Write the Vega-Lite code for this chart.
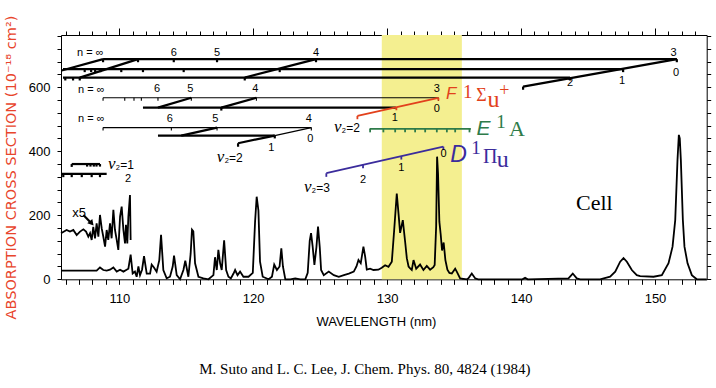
{
"$schema": "https://vega.github.io/schema/vega-lite/v6.json",
"width": 645.7,
"height": 244.3,
"autosize": {"type": "none"},
"padding": {"left": 61, "top": 35, "right": 9.3, "bottom": 108.7},
"background": "white",
"config": {"view": {"stroke": null}, "axis": {"grid": false, "domainColor": "black", "tickColor": "black", "labelColor": "black", "titleColor": "black", "labelOverlap": false, "labelFlush": false, "labelFont": "Liberation Sans", "labelFontSize": 13}},
"title": {"text": "M. Suto and L. C. Lee, J. Chem. Phys. 80, 4824 (1984)", "orient": "bottom", "anchor": "middle", "font": "Liberation Serif", "fontSize": 15, "fontWeight": "normal", "color": "black", "offset": 34, "dx": -19},
"datasets": {
"band": [{"x": 129.6, "x2": 135.58}],
"main": [
{"x":105.65,"y":27},{"x":106.57,"y":27},{"x":107.57,"y":27},{"x":108.31,"y":27},{"x":108.56,"y":37},{"x":108.81,"y":29},{"x":109.06,"y":27},{"x":109.31,"y":30},{"x":109.56,"y":37},{"x":109.81,"y":24},{"x":110.06,"y":30},{"x":110.31,"y":24},{"x":110.55,"y":30},{"x":110.68,"y":33},{"x":110.85,"y":77},{"x":111.0,"y":18},{"x":111.17,"y":24},{"x":111.3,"y":8},{"x":111.43,"y":40},{"x":111.55,"y":13},{"x":111.7,"y":30},{"x":111.85,"y":72},{"x":112.05,"y":18},{"x":112.3,"y":18},{"x":112.42,"y":46},{"x":112.59,"y":37},{"x":112.79,"y":24},{"x":112.99,"y":60},{"x":113.12,"y":139},{"x":113.29,"y":29},{"x":113.54,"y":3},{"x":113.79,"y":8},{"x":113.99,"y":40},{"x":114.09,"y":74},{"x":114.29,"y":13},{"x":114.54,"y":0},{"x":114.79,"y":29},{"x":114.93,"y":58},{"x":115.16,"y":8},{"x":115.33,"y":80},{"x":115.43,"y":155},{"x":115.53,"y":150},{"x":115.66,"y":50},{"x":115.91,"y":8},{"x":116.28,"y":3},{"x":116.66,"y":0},{"x":117.03,"y":13},{"x":117.15,"y":69},{"x":117.28,"y":29},{"x":117.4,"y":92},{"x":117.53,"y":50},{"x":117.65,"y":29},{"x":117.83,"y":122},{"x":117.98,"y":29},{"x":118.15,"y":8},{"x":118.33,"y":3},{"x":118.53,"y":18},{"x":118.65,"y":29},{"x":118.83,"y":13},{"x":119.02,"y":24},{"x":119.27,"y":8},{"x":119.65,"y":8},{"x":119.97,"y":20},{"x":120.14,"y":180},{"x":120.26,"y":258},{"x":120.39,"y":215},{"x":120.51,"y":55},{"x":120.71,"y":8},{"x":121.15,"y":0},{"x":121.4,"y":8},{"x":121.57,"y":46},{"x":121.77,"y":29},{"x":121.97,"y":40},{"x":122.1,"y":97},{"x":122.22,"y":40},{"x":122.4,"y":0},{"x":122.77,"y":0},{"x":123.14,"y":3},{"x":123.52,"y":0},{"x":123.89,"y":0},{"x":124.07,"y":20},{"x":124.22,"y":120},{"x":124.32,"y":144},{"x":124.44,"y":102},{"x":124.57,"y":45},{"x":124.72,"y":100},{"x":124.84,"y":165},{"x":124.97,"y":100},{"x":125.07,"y":29},{"x":125.27,"y":13},{"x":125.64,"y":24},{"x":126.02,"y":13},{"x":126.39,"y":8},{"x":126.77,"y":13},{"x":127.14,"y":18},{"x":127.51,"y":24},{"x":127.71,"y":40},{"x":127.86,"y":60},{"x":128.03,"y":50},{"x":128.23,"y":102},{"x":128.36,"y":71},{"x":128.48,"y":30},{"x":128.73,"y":33},{"x":128.98,"y":29},{"x":129.35,"y":30},{"x":129.6,"y":36},{"x":129.85,"y":44},{"x":130.1,"y":39},{"x":130.35,"y":55},{"x":130.52,"y":150},{"x":130.72,"y":268},{"x":130.85,"y":205},{"x":130.97,"y":145},{"x":131.17,"y":185},{"x":131.35,"y":115},{"x":131.47,"y":66},{"x":131.6,"y":40},{"x":131.72,"y":34},{"x":131.84,"y":29},{"x":131.97,"y":60},{"x":132.17,"y":33},{"x":132.46,"y":46},{"x":132.71,"y":29},{"x":132.96,"y":42},{"x":133.21,"y":30},{"x":133.45,"y":38},{"x":133.55,"y":45},{"x":133.66,"y":165},{"x":133.73,"y":383},{"x":133.8,"y":330},{"x":133.9,"y":180},{"x":134.0,"y":140},{"x":134.1,"y":90},{"x":134.22,"y":115},{"x":134.35,"y":60},{"x":134.5,"y":30},{"x":134.65,"y":20},{"x":134.83,"y":18},{"x":135.08,"y":33},{"x":135.2,"y":24},{"x":135.45,"y":3},{"x":135.95,"y":0},{"x":136.07,"y":3},{"x":136.32,"y":18},{"x":136.57,"y":3},{"x":136.8,"y":0},{"x":140.1,"y":0},{"x":140.3,"y":5},{"x":140.5,"y":0},{"x":143.54,"y":3},{"x":143.86,"y":18},{"x":144.16,"y":3},{"x":144.41,"y":0},{"x":145.9,"y":0},{"x":146.65,"y":8},{"x":147.03,"y":24},{"x":147.4,"y":55},{"x":147.65,"y":66},{"x":147.9,"y":55},{"x":148.27,"y":29},{"x":148.64,"y":13},{"x":148.89,"y":10},{"x":149.89,"y":8},{"x":150.51,"y":13},{"x":151.01,"y":50},{"x":151.31,"y":102},{"x":151.51,"y":185},{"x":151.68,"y":373},{"x":151.78,"y":451},{"x":151.85,"y":440},{"x":151.93,"y":373},{"x":152.08,"y":185},{"x":152.2,"y":102},{"x":152.43,"y":50},{"x":152.75,"y":13},{"x":153.12,"y":0},{"x":153.86,"y":0}
],
"x5": [
{"x":105.65,"y":144},{"x":106.07,"y":154},{"x":106.32,"y":149},{"x":106.57,"y":154},{"x":106.82,"y":138},{"x":107.07,"y":149},{"x":107.32,"y":156},{"x":107.52,"y":149},{"x":107.69,"y":133},{"x":107.82,"y":144},{"x":107.94,"y":123},{"x":108.06,"y":164},{"x":108.19,"y":128},{"x":108.31,"y":175},{"x":108.44,"y":133},{"x":108.56,"y":201},{"x":108.69,"y":159},{"x":108.81,"y":133},{"x":108.94,"y":102},{"x":109.06,"y":154},{"x":109.18,"y":123},{"x":109.31,"y":175},{"x":109.43,"y":128},{"x":109.56,"y":217},{"x":109.68,"y":154},{"x":109.81,"y":123},{"x":109.93,"y":92},{"x":110.06,"y":196},{"x":110.18,"y":227},{"x":110.31,"y":154},{"x":110.43,"y":112},{"x":110.5,"y":170},{"x":110.6,"y":112},{"x":110.68,"y":196},{"x":110.8,"y":263},{"x":110.85,"y":123}
],
"thick": [
{"x":108.79,"y":687.5,"x2":151.63,"y2":687.5},{"x":105.8,"y":656.3,"x2":147.62,"y2":656.3},{"x":105.8,"y":630,"x2":143.66,"y2":630},
{"x":105.7,"y":652,"x2":108.79,"y2":687.5},{"x":107.05,"y":630,"x2":111.4,"y2":687.5},{"x":119.37,"y":630,"x2":124.69,"y2":687.5},{"x":140.15,"y":602,"x2":151.63,"y2":687.5},{"x":140.15,"y":602,"x2":140.15,"y2":592},
{"x":108.79,"y":687.5,"x2":108.79,"y2":678},{"x":111.4,"y":687.5,"x2":111.4,"y2":678},{"x":114.07,"y":687.5,"x2":114.07,"y2":678},{"x":117.3,"y":687.5,"x2":117.3,"y2":678},{"x":124.69,"y":687.5,"x2":124.69,"y2":678},{"x":151.63,"y":687.5,"x2":151.63,"y2":678},
{"x":107.42,"y":656.3,"x2":107.42,"y2":647},{"x":107.9,"y":656.3,"x2":107.9,"y2":647},{"x":108.2,"y":656.3,"x2":108.2,"y2":647},{"x":108.6,"y":656.3,"x2":108.6,"y2":647},{"x":110.15,"y":656.3,"x2":110.15,"y2":647},{"x":111.77,"y":656.3,"x2":111.77,"y2":647},{"x":114.81,"y":656.3,"x2":114.81,"y2":647},{"x":121.98,"y":656.3,"x2":121.98,"y2":647},{"x":147.62,"y":656.3,"x2":147.62,"y2":647},
{"x":105.97,"y":630,"x2":105.97,"y2":621},{"x":106.55,"y":630,"x2":106.55,"y2":621},{"x":107.05,"y":630,"x2":107.05,"y2":621},{"x":119.37,"y":630,"x2":119.37,"y2":621},{"x":143.66,"y":630,"x2":143.66,"y2":621},
{"x":111.77,"y":536.3,"x2":130.65,"y2":536.3},{"x":112.89,"y":536.3,"x2":115.38,"y2":567},{"x":117.62,"y":536.3,"x2":120.24,"y2":567},{"x":117.62,"y":536.3,"x2":117.62,"y2":527},
{"x":112.89,"y":448.8,"x2":121.61,"y2":448.8},{"x":114.63,"y":448.8,"x2":117.3,"y2":473.8},{"x":118.87,"y":425,"x2":121.61,"y2":448.8},{"x":118.87,"y":425,"x2":118.87,"y2":414},{"x":121.61,"y":448.8,"x2":121.61,"y2":440},
{"x":106.45,"y":360,"x2":108.56,"y2":360},{"x":106.45,"y":360,"x2":106.45,"y2":351},{"x":107.6,"y":360,"x2":107.6,"y2":352},{"x":107.85,"y":360,"x2":107.85,"y2":352},{"x":108.1,"y":360,"x2":108.1,"y2":352},{"x":108.3,"y":360,"x2":108.3,"y2":352},{"x":108.56,"y":360,"x2":108.56,"y2":352},
{"x":105.65,"y":329,"x2":109.06,"y2":329},{"x":105.82,"y":329,"x2":105.82,"y2":319},{"x":106.45,"y":329,"x2":106.45,"y2":319},{"x":107.2,"y":329,"x2":107.2,"y2":319},{"x":107.94,"y":329,"x2":107.94,"y2":319},{"x":108.56,"y":329,"x2":108.56,"y2":319},
{"x":107.32,"y":201,"x2":107.9,"y2":176}
],
"thin": [
{"x":108.79,"y":567,"x2":133.83,"y2":567},{"x":108.79,"y":567,"x2":108.79,"y2":558},{"x":110.41,"y":567,"x2":110.41,"y2":558},{"x":111.1,"y":567,"x2":111.1,"y2":558},{"x":111.65,"y":567,"x2":111.65,"y2":558},{"x":112.89,"y":567,"x2":112.89,"y2":558},{"x":115.38,"y":567,"x2":115.38,"y2":558},{"x":120.24,"y":567,"x2":120.24,"y2":558},{"x":133.83,"y":567,"x2":133.83,"y2":558},
{"x":108.79,"y":473.8,"x2":124.34,"y2":473.8},{"x":108.79,"y":473.8,"x2":108.79,"y2":465},{"x":113.89,"y":473.8,"x2":113.89,"y2":465},{"x":117.3,"y":473.8,"x2":117.3,"y2":465},{"x":124.34,"y":473.8,"x2":124.34,"y2":465},
{"x":121.61,"y":448.8,"x2":124.34,"y2":473.8}
],
"colsegs": [
{"x":127.78,"y":510.3,"x2":133.83,"y2":567,"grp":"F"},{"x":127.78,"y":510.3,"x2":127.78,"y2":500,"grp":"F"},{"x":130.69,"y":537.5,"x2":130.69,"y2":528,"grp":"F"},{"x":133.83,"y":567,"x2":133.83,"y2":558,"grp":"F"},
{"x":128.69,"y":469.7,"x2":136.25,"y2":469.7,"grp":"E"},{"x":128.73,"y":469.7,"x2":128.73,"y2":459,"grp":"E"},{"x":129.72,"y":469.7,"x2":129.72,"y2":459,"grp":"E"},{"x":130.6,"y":469.7,"x2":130.6,"y2":459,"grp":"E"},{"x":131.34,"y":469.7,"x2":131.34,"y2":459,"grp":"E"},{"x":132.09,"y":469.7,"x2":132.09,"y2":459,"grp":"E"},{"x":132.84,"y":469.7,"x2":132.84,"y2":459,"grp":"E"},{"x":133.71,"y":469.7,"x2":133.71,"y2":459,"grp":"E"},{"x":134.46,"y":469.7,"x2":134.46,"y2":459,"grp":"E"},{"x":135.08,"y":469.7,"x2":135.08,"y2":459,"grp":"E"},{"x":136.15,"y":469.7,"x2":136.15,"y2":459,"grp":"E"},
{"x":125.46,"y":331.3,"x2":134.2,"y2":414.4,"grp":"D"},{"x":125.46,"y":331.3,"x2":125.46,"y2":320,"grp":"D"},{"x":128.2,"y":357.3,"x2":128.2,"y2":347,"grp":"D"},{"x":131.06,"y":384.5,"x2":131.06,"y2":374,"grp":"D"},{"x":134.2,"y":414.4,"x2":134.2,"y2":404,"grp":"D"}
],
"arrowhead": [{"x":107.94,"y":174.7}],
"small": [
{"x":107.84,"y":708,"t":"n = ∞"},{"x":114.07,"y":708,"t":"6"},{"x":117.3,"y":708,"t":"5"},{"x":124.69,"y":708,"t":"4"},{"x":151.38,"y":708,"t":"3"},{"x":151.58,"y":644.7,"t":"0"},{"x":147.55,"y":620.6,"t":"1"},{"x":143.66,"y":613.4,"t":"2"},
{"x":107.91,"y":591.6,"t":"n = ∞"},{"x":112.82,"y":593.8,"t":"6"},{"x":115.31,"y":593.8,"t":"5"},{"x":120.16,"y":593.8,"t":"4"},{"x":133.71,"y":593.8,"t":"3"},{"x":133.71,"y":533,"t":"0"},{"x":130.57,"y":503,"t":"1"},
{"x":107.91,"y":500,"t":"n = ∞"},{"x":113.77,"y":500.9,"t":"6"},{"x":117.17,"y":500.9,"t":"5"},{"x":124.15,"y":500.9,"t":"4"},{"x":124.27,"y":437.5,"t":"0"},{"x":121.36,"y":409.4,"t":"1"},
{"x":128.2,"y":310.3,"t":"2"},{"x":131.06,"y":346.9,"t":"1"},{"x":134.21,"y":391,"t":"0"},
{"x":110.65,"y":314,"t":"2"}
],
"x5lab": [{"x":107.01,"y":206,"t":"x5"}],
"nu": [
{"x":126.6,"y":477,"t":"₂=2"},{"x":117.85,"y":381,"t":"₂=2"},{"x":124.36,"y":288,"t":"₂=3"},{"x":109.72,"y":359,"t":"₂=1"}
],
"cell": [{"x":145.47,"y":237.5,"t":"Cell"}],
"clab": [
{"x":134.78,"y":579,"t":"F","grp":"F","role":"letterF"},
{"x":137.2,"y":469,"t":"E","grp":"E","role":"letterE"},
{"x":135.34,"y":388.4,"t":"D","grp":"D","role":"letterD"},
{"x":136.02,"y":586,"t":"1","grp":"F","role":"sup"},
{"x":138.51,"y":492.5,"t":"1","grp":"E","role":"sup"},
{"x":136.64,"y":409,"t":"1","grp":"D","role":"sup"},
{"x":137.05,"y":573,"t":"Σ","grp":"F","role":"sigma"},
{"x":139.69,"y":469,"t":"A","grp":"E","role":"A"},
{"x":137.7,"y":383,"t":"Π","grp":"D","role":"pi"},
{"x":137.95,"y":561,"t":"u","grp":"F","role":"sub"},
{"x":138.64,"y":372,"t":"u","grp":"D","role":"sub"},
{"x":138.75,"y":588,"t":"+","grp":"F","role":"plus"}
]
},
"resolve": {"axis": {"x": "independent", "y": "independent"}},
"layer": [
{"data": {"name": "band"}, "mark": {"type": "rect", "color": "#f4ef90"},
 "encoding": {
  "x": {"field": "x", "type": "quantitative", "scale": {"domain": [105.65, 153.86], "nice": false, "zero": false}, "axis": null},
  "x2": {"field": "x2"}}},
{"data": {"name": "band"}, "mark": {"type": "point", "opacity": 0},
 "encoding": {
  "x": {"datum": 130, "type": "quantitative",
   "axis": {"orient": "bottom", "title": "WAVELENGTH (nm)", "values": [106,107,108,109,110,111,112,113,114,115,116,117,118,119,120,121,122,123,124,125,126,127,128,129,130,131,132,133,134,135,136,137,138,139,140,141,142,143,144,145,146,147,148,149,150,151,152,153], "labelExpr": "datum.value % 10 === 0 ? datum.label : ''", "tickSize": 5, "labelPadding": 8, "titleFont": "Liberation Sans", "titleFontSize": 13, "titleFontWeight": "normal", "titleX": 315, "titleY": 36}},
  "y": {"datum": 0, "type": "quantitative", "scale": {"domain": [0, 763], "nice": false, "zero": false},
   "axis": {"orient": "left", "title": "ABSORPTION CROSS SECTION (10⁻¹⁸ cm²)", "values": [0,40,80,120,160,200,240,280,320,360,400,440,480,520,560,600,640,680,720,760], "labelExpr": "datum.value % 200 === 0 ? datum.label : ''", "tickSize": 4, "labelPadding": 7, "titleFont": "DejaVu Sans", "titleFontSize": 14.5, "titleFontWeight": "normal", "titleColor": "#e8452c", "titleX": -43, "titleY": 132}}}},
{"data": {"name": "band"}, "mark": {"type": "point", "opacity": 0},
 "encoding": {
  "x": {"datum": 130, "type": "quantitative", "axis": {"orient": "top", "labels": false, "title": null, "values": [106,107,108,109,110,111,112,113,114,115,116,117,118,119,120,121,122,123,124,125,126,127,128,129,130,131,132,133,134,135,136,137,138,139,140,141,142,143,144,145,146,147,148,149,150,151,152,153], "tickSize": {"condition": {"test": "datum.value % 10 === 0", "value": 7}, "value": 4}}},
  "y": {"datum": 0, "type": "quantitative", "axis": {"orient": "right", "labels": false, "title": null, "values": [0,40,80,120,160,200,240,280,320,360,400,440,480,520,560,600,640,680,720,760], "tickSize": 4}}}},
{"data": {"name": "main"}, "mark": {"type": "line", "color": "black", "strokeWidth": 1.8},
 "encoding": {"x": {"field": "x", "type": "quantitative", "axis": null}, "y": {"field": "y", "type": "quantitative", "axis": null}}},
{"data": {"name": "x5"}, "mark": {"type": "line", "color": "black", "strokeWidth": 1.8},
 "encoding": {"x": {"field": "x", "type": "quantitative", "axis": null}, "y": {"field": "y", "type": "quantitative", "axis": null}}},
{"data": {"name": "thick"}, "mark": {"type": "rule", "color": "black", "strokeWidth": 2.2},
 "encoding": {"x": {"field": "x", "type": "quantitative", "axis": null}, "y": {"field": "y", "type": "quantitative", "axis": null}, "x2": {"field": "x2"}, "y2": {"field": "y2"}}},
{"data": {"name": "thin"}, "mark": {"type": "rule", "color": "black", "strokeWidth": 1.1},
 "encoding": {"x": {"field": "x", "type": "quantitative", "axis": null}, "y": {"field": "y", "type": "quantitative", "axis": null}, "x2": {"field": "x2"}, "y2": {"field": "y2"}}},
{"data": {"name": "colsegs"}, "mark": {"type": "rule", "strokeWidth": 1.8},
 "encoding": {"x": {"field": "x", "type": "quantitative", "axis": null}, "y": {"field": "y", "type": "quantitative", "axis": null}, "x2": {"field": "x2"}, "y2": {"field": "y2"},
  "color": {"field": "grp", "type": "nominal", "scale": {"domain": ["F", "E", "D"], "range": ["#e2411c", "#2e7b4a", "#3b2c9c"]}, "legend": null}}},
{"data": {"name": "arrowhead"}, "mark": {"type": "point", "shape": "triangle-up", "angle": 139, "size": 45, "filled": true, "color": "black", "opacity": 1},
 "encoding": {"x": {"field": "x", "type": "quantitative", "axis": null}, "y": {"field": "y", "type": "quantitative", "axis": null}}},
{"data": {"name": "small"}, "mark": {"type": "text", "font": "Liberation Sans", "fontSize": 11, "color": "black", "align": "center", "baseline": "middle"},
 "encoding": {"x": {"field": "x", "type": "quantitative", "axis": null}, "y": {"field": "y", "type": "quantitative", "axis": null}, "text": {"field": "t"}}},
{"data": {"name": "x5lab"}, "mark": {"type": "text", "font": "Liberation Sans", "fontSize": 13, "color": "black", "align": "center", "baseline": "middle"},
 "encoding": {"x": {"field": "x", "type": "quantitative", "axis": null}, "y": {"field": "y", "type": "quantitative", "axis": null}, "text": {"field": "t"}}},
{"data": {"name": "nu"}, "mark": {"type": "text", "text": "ν", "font": "Liberation Serif", "fontStyle": "italic", "fontSize": 17, "color": "black", "align": "right", "baseline": "middle"},
 "encoding": {"x": {"field": "x", "type": "quantitative", "axis": null}, "y": {"field": "y", "type": "quantitative", "axis": null}}},
{"data": {"name": "nu"}, "mark": {"type": "text", "font": "Liberation Sans", "fontSize": 12, "color": "black", "align": "left", "baseline": "middle", "dy": 1},
 "encoding": {"x": {"field": "x", "type": "quantitative", "axis": null}, "y": {"field": "y", "type": "quantitative", "axis": null}, "text": {"field": "t"}}},
{"data": {"name": "cell"}, "mark": {"type": "text", "font": "Liberation Serif", "fontSize": 22, "color": "black", "align": "center", "baseline": "middle"},
 "encoding": {"x": {"field": "x", "type": "quantitative", "axis": null}, "y": {"field": "y", "type": "quantitative", "axis": null}, "text": {"field": "t"}}},
{"data": {"name": "clab"}, "transform": [{"filter": "datum.role === 'letterF'"}], "mark": {"type": "text", "font": "Liberation Sans", "fontStyle": "italic", "fontSize": 17, "align": "center", "baseline": "middle"},
 "encoding": {"x": {"field": "x", "type": "quantitative", "axis": null}, "y": {"field": "y", "type": "quantitative", "axis": null}, "text": {"field": "t"}, "color": {"field": "grp", "type": "nominal", "legend": null}}},
{"data": {"name": "clab"}, "transform": [{"filter": "datum.role === 'letterE'"}], "mark": {"type": "text", "font": "Liberation Sans", "fontStyle": "italic", "fontSize": 21, "align": "center", "baseline": "middle"},
 "encoding": {"x": {"field": "x", "type": "quantitative", "axis": null}, "y": {"field": "y", "type": "quantitative", "axis": null}, "text": {"field": "t"}, "color": {"field": "grp", "type": "nominal", "legend": null}}},
{"data": {"name": "clab"}, "transform": [{"filter": "datum.role === 'letterD'"}], "mark": {"type": "text", "font": "Liberation Sans", "fontStyle": "italic", "fontSize": 23, "align": "center", "baseline": "middle"},
 "encoding": {"x": {"field": "x", "type": "quantitative", "axis": null}, "y": {"field": "y", "type": "quantitative", "axis": null}, "text": {"field": "t"}, "color": {"field": "grp", "type": "nominal", "legend": null}}},
{"data": {"name": "clab"}, "transform": [{"filter": "datum.role === 'sup'"}], "mark": {"type": "text", "font": "Liberation Serif", "fontSize": 19, "align": "center", "baseline": "middle"},
 "encoding": {"x": {"field": "x", "type": "quantitative", "axis": null}, "y": {"field": "y", "type": "quantitative", "axis": null}, "text": {"field": "t"}, "color": {"field": "grp", "type": "nominal", "legend": null}}},
{"data": {"name": "clab"}, "transform": [{"filter": "datum.role === 'sigma'"}], "mark": {"type": "text", "font": "Liberation Serif", "fontSize": 18, "align": "center", "baseline": "middle"},
 "encoding": {"x": {"field": "x", "type": "quantitative", "axis": null}, "y": {"field": "y", "type": "quantitative", "axis": null}, "text": {"field": "t"}, "color": {"field": "grp", "type": "nominal", "legend": null}}},
{"data": {"name": "clab"}, "transform": [{"filter": "datum.role === 'A'"}], "mark": {"type": "text", "font": "Liberation Serif", "fontSize": 22, "align": "center", "baseline": "middle"},
 "encoding": {"x": {"field": "x", "type": "quantitative", "axis": null}, "y": {"field": "y", "type": "quantitative", "axis": null}, "text": {"field": "t"}, "color": {"field": "grp", "type": "nominal", "legend": null}}},
{"data": {"name": "clab"}, "transform": [{"filter": "datum.role === 'pi'"}], "mark": {"type": "text", "font": "Liberation Serif", "fontSize": 20, "align": "center", "baseline": "middle"},
 "encoding": {"x": {"field": "x", "type": "quantitative", "axis": null}, "y": {"field": "y", "type": "quantitative", "axis": null}, "text": {"field": "t"}, "color": {"field": "grp", "type": "nominal", "legend": null}}},
{"data": {"name": "clab"}, "transform": [{"filter": "datum.role === 'sub'"}], "mark": {"type": "text", "font": "Liberation Serif", "fontSize": 24, "align": "center", "baseline": "middle"},
 "encoding": {"x": {"field": "x", "type": "quantitative", "axis": null}, "y": {"field": "y", "type": "quantitative", "axis": null}, "text": {"field": "t"}, "color": {"field": "grp", "type": "nominal", "legend": null}}},
{"data": {"name": "clab"}, "transform": [{"filter": "datum.role === 'plus'"}], "mark": {"type": "text", "font": "Liberation Serif", "fontSize": 18, "align": "center", "baseline": "middle"},
 "encoding": {"x": {"field": "x", "type": "quantitative", "axis": null}, "y": {"field": "y", "type": "quantitative", "axis": null}, "text": {"field": "t"}, "color": {"field": "grp", "type": "nominal", "legend": null}}}
]
}
